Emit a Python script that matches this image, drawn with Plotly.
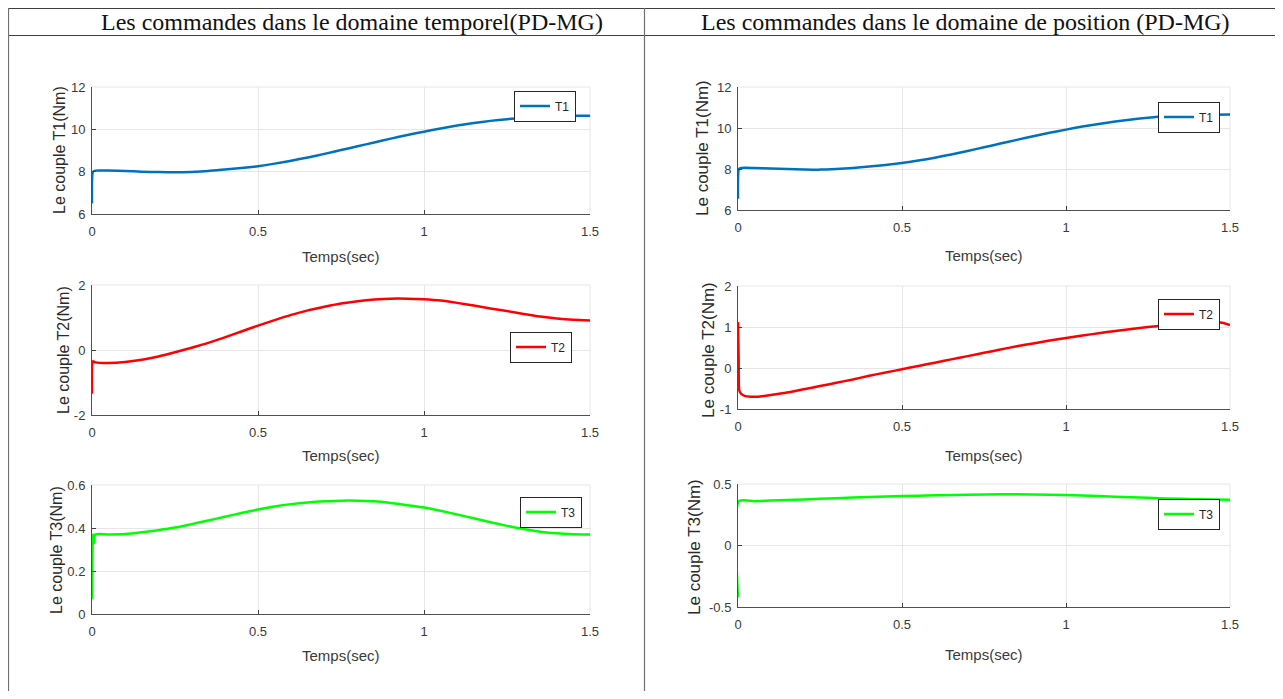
import plotly.graph_objects as go

# The page body keeps an 8px margin, so the figure is 16px smaller than the
# window and every reference (page) pixel position is shifted by that margin.
PAGE_W, PAGE_H = 1283, 699
OFF = 8
W, H = PAGE_W - 2 * OFF, PAGE_H - 2 * OFF

# ---------------- data ----------------
# Left column: temporal domain (PD-MG)
t1_left = [0, 0.003, 0.01, 0.05, 0.1, 0.15, 0.2, 0.25, 0.3, 0.35, 0.4, 0.45, 0.5, 0.55, 0.6, 0.65,
           0.7, 0.75, 0.8, 0.85, 0.9, 0.95, 1.0, 1.05, 1.1, 1.15, 1.2, 1.25, 1.3, 1.35, 1.4, 1.45, 1.5]
T1_left = [6.5, 8.0, 8.05, 8.05, 8.03, 8.0, 7.98, 7.97, 7.99, 8.03, 8.1, 8.17, 8.26, 8.38, 8.52, 8.67,
           8.84, 9.02, 9.2, 9.38, 9.56, 9.73, 9.89, 10.04, 10.18, 10.3, 10.4, 10.48, 10.55, 10.6, 10.63, 10.64, 10.64]

t2_left = [0, 0.003, 0.01, 0.05, 0.1, 0.15, 0.2, 0.25, 0.3, 0.35, 0.4, 0.45, 0.5, 0.55, 0.6, 0.65,
           0.7, 0.75, 0.8, 0.85, 0.9, 0.95, 1.0, 1.05, 1.1, 1.15, 1.2, 1.25, 1.3, 1.35, 1.4, 1.45, 1.5]
T2_left = [-1.35, -0.35, -0.38, -0.4, -0.37, -0.3, -0.2, -0.07, 0.07, 0.22, 0.39, 0.57, 0.75, 0.92, 1.08, 1.22,
           1.33, 1.43, 1.5, 1.55, 1.58, 1.58, 1.56, 1.52, 1.45, 1.37, 1.28, 1.2, 1.11, 1.03, 0.97, 0.93, 0.91]

t3_left = [0, 0.003, 0.006, 0.01, 0.05, 0.1, 0.15, 0.2, 0.25, 0.3, 0.35, 0.4, 0.45, 0.5, 0.55, 0.6, 0.65,
           0.7, 0.75, 0.8, 0.85, 0.9, 0.95, 1.0, 1.05, 1.1, 1.15, 1.2, 1.25, 1.3, 1.35, 1.4, 1.45, 1.5]
T3_left = [0.07, 0.37, 0.33, 0.37, 0.37, 0.372, 0.38, 0.39, 0.402, 0.418, 0.435, 0.452, 0.47, 0.486, 0.5, 0.511, 0.519,
           0.524, 0.527, 0.527, 0.524, 0.516, 0.506, 0.495, 0.48, 0.463, 0.445, 0.427, 0.41, 0.395, 0.383, 0.375, 0.371, 0.37]

# Right column: position domain (PD-MG)
t1_right = [0, 0.003, 0.01, 0.05, 0.1, 0.15, 0.2, 0.25, 0.3, 0.35, 0.4, 0.45, 0.5, 0.55, 0.6, 0.65,
            0.7, 0.75, 0.8, 0.85, 0.9, 0.95, 1.0, 1.05, 1.1, 1.15, 1.2, 1.25, 1.3, 1.35, 1.4, 1.45, 1.5]
T1_right = [6.55, 8.0, 8.05, 8.05, 8.03, 8.0, 7.98, 7.97, 8.0, 8.05, 8.12, 8.2, 8.29, 8.41, 8.55, 8.71,
            8.88, 9.06, 9.24, 9.42, 9.6, 9.77, 9.92, 10.07, 10.2, 10.32, 10.42, 10.5, 10.57, 10.61, 10.64, 10.65, 10.66]

t2_right = [0, 0.002, 0.004, 0.01, 0.02, 0.04, 0.06, 0.1, 0.15, 0.2, 0.25, 0.3, 0.35, 0.4, 0.45, 0.5, 0.55, 0.6,
            0.65, 0.7, 0.75, 0.8, 0.85, 0.9, 0.95, 1.0, 1.05, 1.1, 1.15, 1.2, 1.25, 1.3, 1.35, 1.4, 1.45, 1.48, 1.5]
T2_right = [1.12, 0.2, -0.55, -0.63, -0.68, -0.7, -0.7, -0.66, -0.6, -0.52, -0.44, -0.36, -0.28, -0.19, -0.11, -0.03, 0.05, 0.13,
            0.21, 0.29, 0.37, 0.45, 0.53, 0.6, 0.67, 0.73, 0.79, 0.85, 0.9, 0.95, 1.0, 1.04, 1.08, 1.11, 1.12, 1.1, 1.05]

t3_right = [0, 0.003, 0.05, 0.1, 0.2, 0.3, 0.4, 0.5, 0.6, 0.7, 0.8, 0.9, 1.0, 1.1, 1.2, 1.3, 1.4, 1.5]
T3_right = [-0.42, 0.36, 0.36, 0.365, 0.375, 0.385, 0.395, 0.402, 0.408, 0.413, 0.416, 0.415, 0.41, 0.402, 0.392, 0.383, 0.376, 0.372]

x_tickvals = [0, 0.5, 1, 1.5]
x_ticktext = ["0", "0.5", "1", "1.5"]

y1_tickvals = [6, 8, 10, 12]
y1_ticktext = ["6", "8", "10", "12"]
y2L_tickvals = [-2, 0, 2]
y2L_ticktext = ["-2", "0", "2"]
y3L_tickvals = [0, 0.2, 0.4, 0.6]
y3L_ticktext = ["0", "0.2", "0.4", "0.6"]
y2R_tickvals = [-1, 0, 1, 2]
y2R_ticktext = ["-1", "0", "1", "2"]
y3R_tickvals = [-0.5, 0, 0.5]
y3R_ticktext = ["-0.5", "0", "0.5"]

header_left = "Les commandes dans le domaine temporel(PD-MG)"
header_right = "Les commandes dans le domaine de position (PD-MG)"
x_title = "Temps(sec)"
y_titles = ["Le couple T1(Nm)", "Le couple T2(Nm)", "Le couple T3(Nm)"]
names = ["T1", "T2", "T3"]
colors = ["#0072BD", "#FF0000", "#00FF00"]

# ---------------- layout geometry (page pixels) ----------------
def fx(px):
    return (px - OFF) / W

def fy(px):
    return 1 - (px - OFF) / H

panels = [
    # x px, y px, t, v, y range, tickvals, ticktext, series, legend centre, y-title centre, y-title size, x-title y
    ((92, 590), (87, 214), t1_left, T1_left, [6, 12], y1_tickvals, y1_ticktext, 0, (545, 106), (60, 150), 16, 256),
    ((92, 590), (285, 415), t2_left, T2_left, [-2, 2], y2L_tickvals, y2L_ticktext, 1, (541, 347), (63, 350), 16, 455),
    ((92, 590), (485, 614), t3_left, T3_left, [0, 0.6], y3L_tickvals, y3L_ticktext, 2, (551, 512), (56, 550), 16, 655),
    ((738, 1230), (87, 210), t1_right, T1_right, [6, 12], y1_tickvals, y1_ticktext, 0, (1189, 117), (702, 148), 17, 255),
    ((738, 1230), (286, 409), t2_right, T2_right, [-1, 2], y2R_tickvals, y2R_ticktext, 1, (1189, 314), (708, 350), 17, 455),
    ((738, 1230), (484, 607), t3_right, T3_right, [-0.5, 0.5], y3R_tickvals, y3R_ticktext, 2, (1189, 514), (694, 547), 17, 654),
]

sans = "Liberation Sans, Arial, sans-serif"
narrow = "Liberation Sans Narrow, Arial Narrow, Liberation Sans, sans-serif"
tick_font = dict(family=sans, size=13, color="#3a3a3a")

fig = go.Figure()
layout = dict(
    width=W, height=H, autosize=False,
    margin=dict(l=0, r=0, t=0, b=0, autoexpand=False),
    paper_bgcolor="white", plot_bgcolor="white",
    showlegend=True,
)
shapes = []
annotations = []

for i, (xp, yp, t, v, yr, tv, tt, ni, lg, yt, ysz, xty) in enumerate(panels):
    k = i + 1
    xa = "x" if k == 1 else f"x{k}"
    ya = "y" if k == 1 else f"y{k}"
    leg = "legend" if k == 1 else f"legend{k}"
    fig.add_trace(go.Scatter(
        x=t, y=v, mode="lines", name=names[ni],
        line=dict(color=colors[ni], width=2.5, shape="spline", smoothing=0.6),
        xaxis=xa, yaxis=ya, legend=leg,
    ))
    layout["xaxis" if k == 1 else f"xaxis{k}"] = dict(
        domain=[fx(xp[0]), fx(xp[1])], anchor=ya, range=[0, 1.5], automargin=False,
        tickmode="array", tickvals=x_tickvals, ticktext=x_ticktext,
        ticks="inside", ticklen=4, tickcolor="#404040",
        showline=True, linecolor="#505050", linewidth=1,
        showgrid=True, gridcolor="#e6e6e6", gridwidth=1, zeroline=False,
        tickfont=tick_font, ticklabelstandoff=5,
    )
    layout["yaxis" if k == 1 else f"yaxis{k}"] = dict(
        domain=[fy(yp[1]), fy(yp[0])], anchor=xa, range=yr, automargin=False,
        tickmode="array", tickvals=tv, ticktext=tt,
        ticks="inside", ticklen=4, tickcolor="#404040",
        showline=True, linecolor="#505050", linewidth=1,
        showgrid=True, gridcolor="#e6e6e6", gridwidth=1, zeroline=False,
        tickfont=tick_font, ticklabelstandoff=3,
    )
    # axis titles
    annotations.append(dict(text=y_titles[ni], x=fx(yt[0]), y=fy(yt[1]), xref="paper", yref="paper",
                            showarrow=False, textangle=-90, xanchor="center", yanchor="middle",
                            font=dict(family=sans, size=ysz, color="#2a2a2a")))
    annotations.append(dict(text=x_title, x=fx((xp[0] + xp[1]) / 2), y=fy(xty), xref="paper", yref="paper",
                            showarrow=False, xanchor="center", yanchor="middle",
                            font=dict(family=narrow, size=15, color="#3a3a3a")))
    # light top/right frame (grid at range ends)
    shapes.append(dict(type="line", xref=f"{xa} domain", yref=f"{ya} domain",
                       x0=0, x1=1, y0=1, y1=1, line=dict(color="#e6e6e6", width=1), layer="below"))
    shapes.append(dict(type="line", xref=f"{xa} domain", yref=f"{ya} domain",
                       x0=1, x1=1, y0=0, y1=1, line=dict(color="#e6e6e6", width=1), layer="below"))
    layout[leg] = dict(
        x=fx(lg[0]), y=fy(lg[1]), xanchor="center", yanchor="middle",
        bgcolor="white", bordercolor="#262626", borderwidth=1,
        font=dict(family=narrow, size=12, color="#262626"),
        itemwidth=30, tracegroupgap=0,
    )

# table lines
tbl = "#404040"
def hline(y, x0, x1, color=tbl, w=1):
    shapes.append(dict(type="line", xref="paper", yref="paper",
                       x0=fx(x0), x1=fx(x1), y0=fy(y), y1=fy(y),
                       line=dict(color=color, width=w)))

def vline(x, y0, y1, color=tbl, w=1):
    shapes.append(dict(type="line", xref="paper", yref="paper",
                       x0=fx(x), x1=fx(x), y0=fy(y0), y1=fy(y1),
                       line=dict(color=color, width=w)))

hline(8.5, 8, 1283)
hline(35.5, 8, 1281)
vline(8.5, 8, 699, color="#707070", w=1.2)
vline(644.5, 8, 699, color="#707070", w=1.2)
vline(1280.5, 8, 699, color="#707070", w=1.2)

for text, cx in ((header_left, 352), (header_right, 965)):
    annotations.append(dict(text=text, x=fx(cx), y=fy(22), xref="paper", yref="paper",
                            showarrow=False, xanchor="center", yanchor="middle",
                            font=dict(family="Liberation Serif, Times New Roman, serif", size=24, color="#111111")))

layout["shapes"] = shapes
layout["annotations"] = annotations
fig.update_layout(**layout)

fig.write_html("out.html", config={"displayModeBar": False})
